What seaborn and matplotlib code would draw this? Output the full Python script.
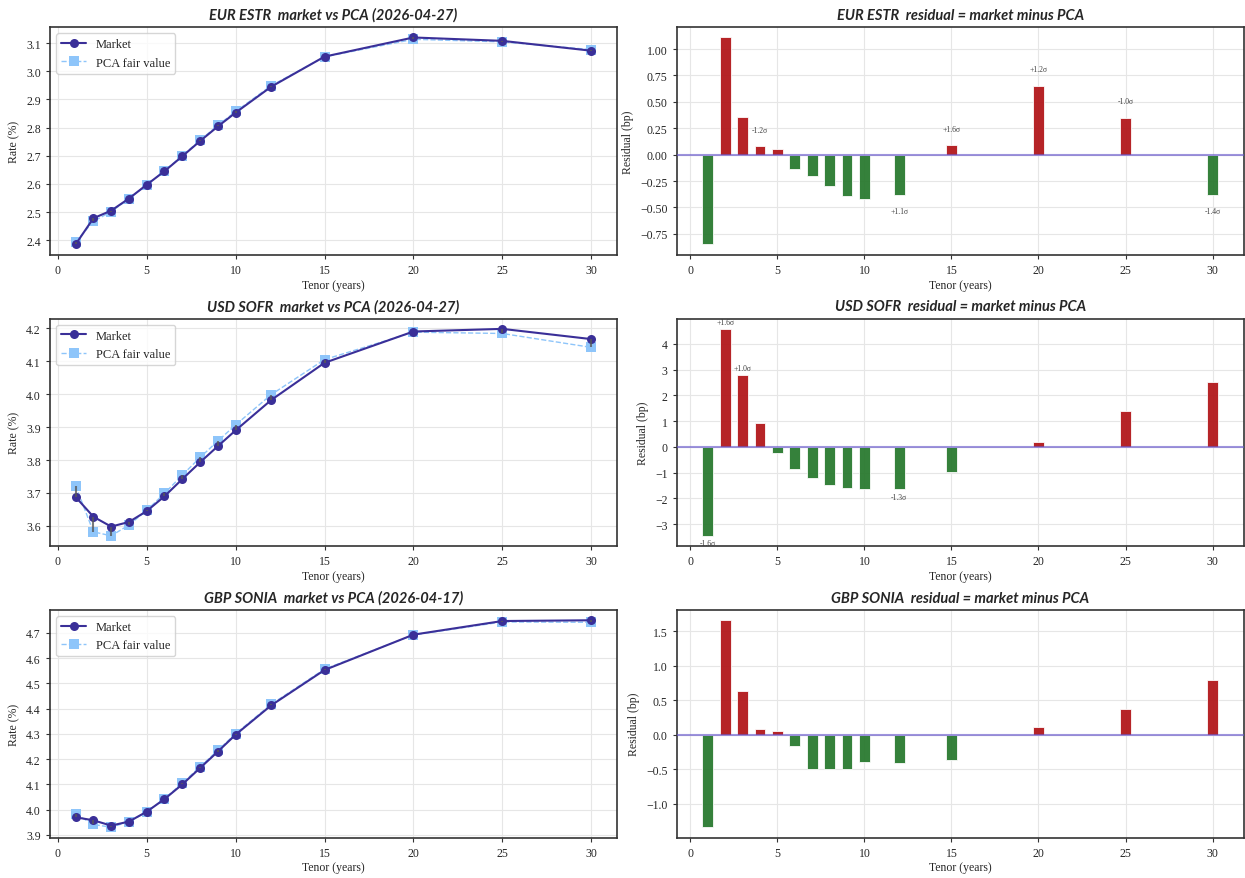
import numpy as np
import seaborn as sns
import matplotlib.pyplot as plt
from matplotlib.ticker import MultipleLocator

# Tenors (years)
tenors = [1, 2, 3, 4, 5, 6, 7, 8, 9, 10, 12, 15, 20, 25, 30]

# Market rates (%)
eur_market = [2.385, 2.478, 2.505, 2.548, 2.597, 2.645, 2.698, 2.752, 2.804, 2.853, 2.945, 3.052, 3.120, 3.108, 3.073]
usd_market = [3.688, 3.628, 3.598, 3.612, 3.645, 3.690, 3.742, 3.793, 3.842, 3.890, 3.982, 4.095, 4.190, 4.198, 4.167]
gbp_market = [3.970, 3.958, 3.937, 3.953, 3.992, 4.042, 4.100, 4.165, 4.230, 4.297, 4.413, 4.553, 4.693, 4.747, 4.750]

# Residuals market minus PCA (bp)
eur_resid = [-0.85, 1.11, 0.36, 0.08, 0.05, -0.14, -0.20, -0.30, -0.39, -0.42, -0.38, 0.09, 0.65, 0.35, -0.38]
usd_resid = [-3.45, 4.58, 2.80, 0.92, -0.25, -0.87, -1.22, -1.47, -1.58, -1.65, -1.65, -0.98, 0.20, 1.40, 2.52]
gbp_resid = [-1.34, 1.66, 0.64, 0.08, 0.06, -0.16, -0.49, -0.50, -0.49, -0.39, -0.41, -0.36, 0.11, 0.37, 0.80]

# z-score labels on flagged tenors
eur_flags = {4: "-1.2σ", 12: "+1.1σ", 15: "+1.6σ", 20: "+1.2σ", 25: "-1.0σ", 30: "-1.4σ"}
usd_flags = {1: "-1.6σ", 2: "+1.6σ", 3: "+1.0σ", 12: "-1.3σ"}
gbp_flags = {}

curves = [
    ("EUR ESTR", "2026-04-27", eur_market, eur_resid, eur_flags),
    ("USD SOFR", "2026-04-27", usd_market, usd_resid, usd_flags),
    ("GBP SONIA", "2026-04-17", gbp_market, gbp_resid, gbp_flags),
]

sns.set_style("whitegrid", {"axes.edgecolor": "0.2", "grid.color": "0.9"})
plt.rcParams["font.family"] = ["Liberation Serif", "DejaVu Serif"]
plt.rcParams["font.size"] = 8.5
plt.rcParams["axes.linewidth"] = 1.2

mkt_color = "#3a2f98"
pca_color = "#8ec5fa"
title_font = dict(family=["Lato", "DejaVu Sans"], fontweight="bold", fontstyle="italic", fontsize=10.5)

fig, axes = plt.subplots(3, 2, figsize=(12.45, 8.79), dpi=100)
fig.subplots_adjust(left=0.04, right=0.999, top=0.968, bottom=0.046, wspace=0.105, hspace=0.28)

for row, (name, date, market, resid, flags) in enumerate(curves):
    market = np.array(market)
    resid = np.array(resid)
    pca = market - resid / 100.0

    # left: market vs PCA
    ax = axes[row, 0]
    sns.lineplot(x=tenors, y=market, ax=ax, color=mkt_color, marker="o", markersize=6.5,
                 markeredgewidth=0, linewidth=1.5, label="Market", zorder=3)
    sns.lineplot(x=tenors, y=pca, ax=ax, color=pca_color, marker="s", markersize=7.5,
                 markeredgewidth=0, linewidth=1.0, linestyle="--", label="PCA fair value", zorder=2)
    ax.vlines(tenors, pca, market, color="0.35", linewidth=1.5, alpha=0.8, zorder=4)
    ax.set_title(f"{name}  market vs PCA ({date})", **title_font)
    ax.set_xlabel("Tenor (years)", labelpad=2)
    ax.set_ylabel("Rate (%)")
    ax.yaxis.set_major_locator(MultipleLocator(0.1))
    ax.legend(loc="upper left", fontsize=9, frameon=True)

    # right: residual bars
    ax = axes[row, 1]
    sign = ["pos" if r >= 0 else "neg" for r in resid]
    sns.barplot(x=tenors, y=resid, hue=sign, palette={"pos": "#b2181b", "neg": "#2a7a30"},
                native_scale=True, width=0.62, dodge=False, errorbar=None, legend=False,
                saturation=1, edgecolor="white", linewidth=0.6, alpha=0.95, ax=ax)
    ax.axhline(0, color="slateblue", linewidth=1.5, alpha=0.65, zorder=3)
    for t, lab in flags.items():
        r = resid[tenors.index(t)]
        off = 0.12 if r >= 0 else -0.12
        ax.text(t, r + off, lab, ha="center", va="bottom" if r >= 0 else "top",
                fontsize=5.5, color="0.25")
    ax.set_title(f"{name}  residual = market minus PCA", **title_font)
    ax.set_xlabel("Tenor (years)", labelpad=2)
    ax.set_ylabel("Residual (bp)")

for ax in axes.flat:
    ax.tick_params(axis="both", which="both", length=3, color="0.2", labelsize=8.5, left=True, bottom=True)
    ax.set_xticks([0, 5, 10, 15, 20, 25, 30])

fig.savefig("out.png", dpi=100)
